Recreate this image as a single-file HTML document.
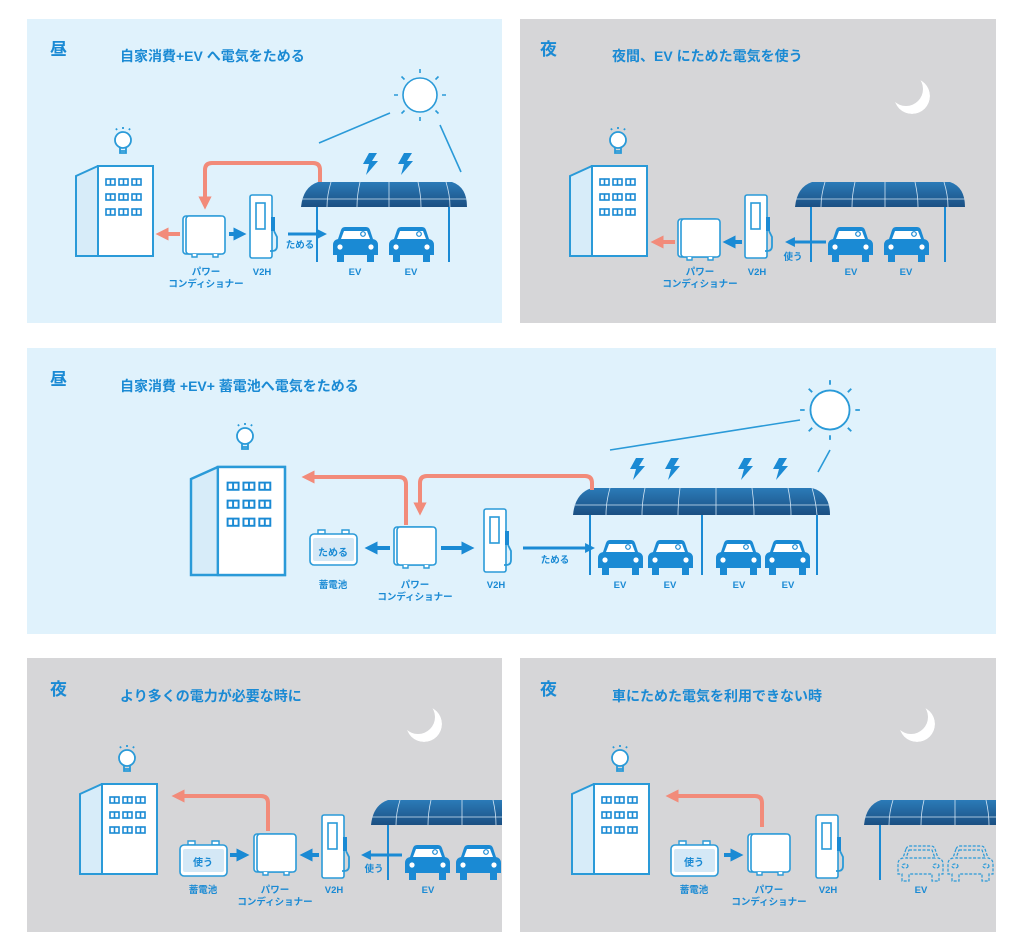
<!DOCTYPE html>
<html><head><meta charset="utf-8"><style>
html,body{margin:0;padding:0;background:#fff;}
svg{display:block;}
text{font-family:"Liberation Sans","Noto Sans CJK JP",sans-serif;font-weight:bold;fill:#1a8ad4;}
.lb{font-size:9.5px;text-anchor:middle;}
.h{font-size:17px;}
.t{font-size:14px;}
</style></head><body>
<svg width="1024" height="952" viewBox="0 0 1024 952" xmlns="http://www.w3.org/2000/svg">
<defs>
<marker id="ab" viewBox="0 0 10 10" refX="5" refY="5" markerWidth="3.3" markerHeight="3.3" orient="auto"><path d="M0,0L10,5L0,10z" fill="#1a8ad4"/></marker>
<marker id="ao" viewBox="0 0 10 10" refX="5" refY="5" markerWidth="3.3" markerHeight="3.3" orient="auto"><path d="M0,0L10,5L0,10z" fill="#f28b7a"/></marker>
<mask id="mm" maskUnits="userSpaceOnUse" x="-30" y="-30" width="60" height="60"><circle r="18" fill="#fff"/><circle cx="-6" cy="-7" r="17" fill="#000"/></mask>
<g id="bld">
<polygon points="0,10 22,0 77,0 77,90 0,90" fill="#d7ecf9" stroke="#2a9ad8" stroke-width="2"/>
<rect x="22" y="0" width="55" height="90" fill="#fff" stroke="#2a9ad8" stroke-width="2"/>
<g fill="none" stroke="#1a8ad4" stroke-width="1.6">
<rect x="30" y="13" width="9" height="6"/><rect x="43" y="13" width="9" height="6"/><rect x="56" y="13" width="9" height="6"/>
<rect x="30" y="28" width="9" height="6"/><rect x="43" y="28" width="9" height="6"/><rect x="56" y="28" width="9" height="6"/>
<rect x="30" y="43" width="9" height="6"/><rect x="43" y="43" width="9" height="6"/><rect x="56" y="43" width="9" height="6"/>
<path d="M34.5,13v6M47.5,13v6M60.5,13v6M34.5,28v6M47.5,28v6M60.5,28v6M34.5,43v6M47.5,43v6M60.5,43v6"/>
</g></g>
<g id="bulb" fill="none" stroke="#2a9ad8" stroke-width="1.8">
<circle cx="0" cy="0" r="8" fill="#fff"/><path d="M-3,8v5h6v-5M-3,11h6"/>
<path d="M0,-11v-2M-6,-10l-1,-1.5M6,-10l1,-1.5"/></g>
<g id="pcs"><rect x="0" y="0" width="40" height="38" rx="3" fill="#fff" stroke="#2a9ad8" stroke-width="1.6"/><rect x="3" y="0" width="39" height="38" rx="3" fill="#fff" stroke="#2a9ad8" stroke-width="1.6"/><path d="M9,38v3h5v-3M30,38v3h5v-3" fill="#fff" stroke="#2a9ad8" stroke-width="1.4"/></g>
<g id="v2h"><rect x="0" y="0" width="22" height="63" rx="2" fill="#fff" stroke="#2a9ad8" stroke-width="1.6"/><rect x="6" y="8" width="9" height="26" fill="#fff" stroke="#2a9ad8" stroke-width="1.6"/><rect x="21" y="22" width="4" height="14" fill="#1a8ad4"/><path d="M24,36l3,6v9q0,5-5,5h-2" fill="none" stroke="#2a9ad8" stroke-width="1.8"/></g>
<g id="bat"><path d="M8,0v4h7v-4zM32,0v4h7v-4z" fill="#fff" stroke="#2a9ad8" stroke-width="1.4"/><rect x="0" y="4" width="47" height="31" rx="4" fill="#fff" stroke="#2a9ad8" stroke-width="1.6"/><rect x="3" y="8" width="41" height="23" rx="2" fill="#d4e8f6"/></g>
<g id="car"><path d="M8,3Q9,0 12,0H33Q36,0 37,3L40,12Q45,13 45,18V28H41V35H34V28H11V35H4V28H0V18Q0,13 5,12Z" fill="#1a8ad4"/><path d="M11,4H34L37,12H8Z" fill="#fff"/><circle cx="30" cy="7" r="2.3" fill="none" stroke="#1a8ad4" stroke-width="1.2"/><circle cx="7" cy="20" r="2.6" fill="#fff"/><circle cx="38" cy="20" r="2.6" fill="#fff"/></g>
<g id="dcar" fill="none" stroke="#2a9ad8" stroke-width="1.2" stroke-dasharray="3,1.5"><path d="M8,3Q9,0 12,0H33Q36,0 37,3L40,12Q45,13 45,18V28H41V35H34V28H11V35H4V28H0V18Q0,13 5,12Z"/><path d="M11,4H34L37,12H8Z"/><ellipse cx="7" cy="20" rx="3" ry="2"/><ellipse cx="38" cy="20" rx="3" ry="2"/></g>
<linearGradient id="rg" x1="0" y1="0" x2="0" y2="1"><stop offset="0" stop-color="#2b7bb8"/><stop offset="1" stop-color="#1b4f82"/></linearGradient>
<g id="sun" fill="none" stroke="#2a9ad8" stroke-width="1.6"><circle r="17" fill="#fff"/><path d="M0,-22v-4M0,22v4M-22,0h-4M22,0h4M15.5,-15.5l3,-3M-15.5,-15.5l-3,-3M15.5,15.5l3,3M-15.5,15.5l-3,3"/></g>
<g id="moon"><circle r="18" fill="#fff" mask="url(#mm)"/></g>
<path id="bolt" d="M6,0H14L9,8H15L3,22L6,11H0Z" fill="#1a8ad4"/>
<clipPath id="c4"><rect x="27" y="658" width="475" height="274"/></clipPath>
<clipPath id="c5"><rect x="520" y="658" width="476" height="274"/></clipPath>
</defs>

<rect x="27" y="19" width="475" height="304" fill="#e0f2fc"/>
<rect x="520" y="19" width="476" height="304" fill="#d6d6d8"/>
<rect x="27" y="348" width="969" height="286" fill="#e0f2fc"/>
<rect x="27" y="658" width="475" height="274" fill="#d6d6d8"/>
<rect x="520" y="658" width="476" height="274" fill="#d6d6d8"/>

<!-- Panel 1 -->
<text class="h" x="50" y="55">昼</text>
<text class="t" x="120" y="61">自家消費+EV へ電気をためる</text>
<use href="#sun" x="420" y="95"/>
<path d="M319,143L390,113M440,125L461,172" stroke="#2a9ad8" stroke-width="1.6"/>
<use href="#bolt" x="363" y="153"/><use href="#bolt" x="398" y="153"/>
<use href="#bulb" x="123" y="140"/>
<use href="#bld" x="76" y="166"/>
<path d="M301,207Q303,187 318,182H452Q467,187 467,207Z" fill="url(#rg)"/>
<path d="M301,199H467M331,182Q327,195 327,207M360,182Q357,195 357,207M389,182V207M418,182Q421,195 421,207M446,182Q450,195 450,207" stroke="#cfe3f3" stroke-width="0.8" fill="none"/>
<path d="M317,207V262M449,207V262" stroke="#1a8ad4" stroke-width="2"/>
<path d="M320,182V170Q320,163 313,163H212Q205,163 205,170V203" fill="none" stroke="#f28b7a" stroke-width="4" marker-end="url(#ao)"/>
<use href="#pcs" x="183" y="216"/>
<use href="#v2h" x="250" y="195"/>
<use href="#car" x="333" y="227"/><use href="#car" x="389" y="227"/>
<path d="M180,234H162" stroke="#f28b7a" stroke-width="4" marker-end="url(#ao)"/>
<path d="M229,234H240" stroke="#1a8ad4" stroke-width="4" marker-end="url(#ab)"/>
<path d="M288,234H322" stroke="#1a8ad4" stroke-width="3" marker-end="url(#ab)"/>
<text class="lb" x="300" y="248">ためる</text>
<text class="lb" x="206" y="275">パワー</text><text class="lb" x="206" y="287">コンディショナー</text>
<text class="lb" x="262" y="275">V2H</text><text class="lb" x="355" y="275">EV</text><text class="lb" x="411" y="275">EV</text>

<!-- Panel 2 -->
<text class="h" x="540" y="55">夜</text>
<text class="t" x="612" y="61">夜間、EV にためた電気を使う</text>
<use href="#moon" x="912" y="96"/>
<use href="#bulb" x="618" y="140"/>
<use href="#bld" x="570" y="166"/>
<path d="M795,207Q797,187 812,182H950Q965,187 965,207Z" fill="url(#rg)"/>
<path d="M795,199H965M825,182Q821,195 821,207M855,182Q852,195 852,207M885,182V207M915,182Q918,195 918,207M944,182Q948,195 948,207" stroke="#cfe3f3" stroke-width="0.8" fill="none"/>
<path d="M811,207V262M945,207V262" stroke="#1a8ad4" stroke-width="2"/>
<use href="#pcs" x="678" y="219"/>
<use href="#v2h" x="745" y="195"/>
<use href="#car" x="828" y="227"/><use href="#car" x="884" y="227"/>
<path d="M675,242H657" stroke="#f28b7a" stroke-width="4" marker-end="url(#ao)"/>
<path d="M742,242H729" stroke="#1a8ad4" stroke-width="4" marker-end="url(#ab)"/>
<path d="M826,242H790" stroke="#1a8ad4" stroke-width="3" marker-end="url(#ab)"/>
<text class="lb" x="793" y="260">使う</text>
<text class="lb" x="700" y="275">パワー</text><text class="lb" x="700" y="287">コンディショナー</text>
<text class="lb" x="757" y="275">V2H</text><text class="lb" x="851" y="275">EV</text><text class="lb" x="906" y="275">EV</text>

<!-- Panel 3 -->
<text class="h" x="50" y="385">昼</text>
<text class="t" x="120" y="391">自家消費 +EV+ 蓄電池へ電気をためる</text>
<g transform="translate(830,410) scale(1.15)"><use href="#sun"/></g>
<path d="M610,450L800,420M830,450L818,472" stroke="#2a9ad8" stroke-width="1.6"/>
<use href="#bolt" x="630" y="458"/><use href="#bolt" x="665" y="458"/><use href="#bolt" x="738" y="458"/><use href="#bolt" x="773" y="458"/>
<use href="#bulb" x="245" y="436"/>
<g transform="translate(191,467) scale(1.22,1.2)"><use href="#bld"/></g>
<path d="M573,515Q575,493 592,488H812Q830,493 830,515Z" fill="url(#rg)"/>
<path d="M573,505H830M610,488Q606,502 606,515M645,488Q642,502 642,515M680,488Q678,502 678,515M716,488V515M752,488Q754,502 754,515M788,488Q791,502 791,515M812,488Q816,502 817,515" stroke="#cfe3f3" stroke-width="0.8" fill="none"/>
<path d="M590,515V575M702,515V575M817,515V575" stroke="#1a8ad4" stroke-width="2"/>
<path d="M406,525V484Q406,477 399,477H308" fill="none" stroke="#f28b7a" stroke-width="4" marker-end="url(#ao)"/>
<path d="M592,490V483Q592,476 585,476H427Q420,476 420,483V509" fill="none" stroke="#f28b7a" stroke-width="4" marker-end="url(#ao)"/>
<use href="#bat" x="310" y="530"/><text class="lb" x="333" y="556" style="font-size:10px">ためる</text>
<use href="#pcs" x="394" y="527"/>
<use href="#v2h" x="484" y="509"/>
<use href="#car" x="598" y="540"/><use href="#car" x="648" y="540"/><use href="#car" x="716" y="540"/><use href="#car" x="765" y="540"/>
<path d="M390,548H371" stroke="#1a8ad4" stroke-width="4" marker-end="url(#ab)"/>
<path d="M441,548H468" stroke="#1a8ad4" stroke-width="4" marker-end="url(#ab)"/>
<path d="M523,548H590" stroke="#1a8ad4" stroke-width="3" marker-end="url(#ab)"/>
<text class="lb" x="555" y="563">ためる</text>
<text class="lb" x="333" y="588">蓄電池</text>
<text class="lb" x="415" y="588">パワー</text><text class="lb" x="415" y="600">コンディショナー</text>
<text class="lb" x="496" y="588">V2H</text>
<text class="lb" x="620" y="588">EV</text><text class="lb" x="670" y="588">EV</text><text class="lb" x="739" y="588">EV</text><text class="lb" x="788" y="588">EV</text>

<!-- Panel 4 -->
<text class="h" x="50" y="695">夜</text>
<text class="t" x="120" y="701">より多くの電力が必要な時に</text>
<use href="#moon" x="424" y="724"/>
<use href="#bulb" x="127" y="758"/>
<use href="#bld" x="80" y="784"/>
<g clip-path="url(#c4)">
<path d="M371,825Q373,805 388,800H520V825Z" fill="url(#rg)"/>
<path d="M371,817H510M400,800Q396,813 396,825M431,800Q428,813 428,825M462,800V825M493,800Q496,813 496,825" stroke="#cfe3f3" stroke-width="0.8" fill="none"/>
<path d="M388,825V880" stroke="#1a8ad4" stroke-width="2"/>
<use href="#car" x="405" y="845"/><use href="#car" x="456" y="845"/>
</g>
<path d="M268,831V803Q268,796 261,796H178" fill="none" stroke="#f28b7a" stroke-width="4" marker-end="url(#ao)"/>
<use href="#bat" x="180" y="841"/><text class="lb" x="203" y="866" style="font-size:10px">使う</text>
<use href="#pcs" x="254" y="834"/>
<use href="#v2h" x="322" y="815"/>
<path d="M230,855H243" stroke="#1a8ad4" stroke-width="4" marker-end="url(#ab)"/>
<path d="M319,855H306" stroke="#1a8ad4" stroke-width="4" marker-end="url(#ab)"/>
<path d="M402,855H366" stroke="#1a8ad4" stroke-width="3" marker-end="url(#ab)"/>
<text class="lb" x="374" y="872">使う</text>
<text class="lb" x="203" y="893">蓄電池</text>
<text class="lb" x="275" y="893">パワー</text><text class="lb" x="275" y="905">コンディショナー</text>
<text class="lb" x="334" y="893">V2H</text><text class="lb" x="428" y="893">EV</text>

<!-- Panel 5 -->
<text class="h" x="540" y="695">夜</text>
<text class="t" x="612" y="701">車にためた電気を利用できない時</text>
<use href="#moon" x="917" y="724"/>
<use href="#bulb" x="620" y="758"/>
<use href="#bld" x="572" y="784"/>
<g clip-path="url(#c5)">
<path d="M864,825Q866,805 881,800H1010V825Z" fill="url(#rg)"/>
<path d="M864,817H1000M893,800Q889,813 889,825M924,800Q921,813 921,825M955,800V825M986,800Q989,813 989,825" stroke="#cfe3f3" stroke-width="0.8" fill="none"/>
<path d="M880,825V880" stroke="#1a8ad4" stroke-width="2"/>
<use href="#dcar" x="898" y="846"/><use href="#dcar" x="948" y="846"/>
</g>
<path d="M762,827V803Q762,796 755,796H672" fill="none" stroke="#f28b7a" stroke-width="4" marker-end="url(#ao)"/>
<use href="#bat" x="671" y="841"/><text class="lb" x="694" y="866" style="font-size:10px">使う</text>
<use href="#pcs" x="748" y="834"/>
<use href="#v2h" x="816" y="815"/>
<path d="M724,855H737" stroke="#1a8ad4" stroke-width="4" marker-end="url(#ab)"/>
<text class="lb" x="694" y="893">蓄電池</text>
<text class="lb" x="769" y="893">パワー</text><text class="lb" x="769" y="905">コンディショナー</text>
<text class="lb" x="828" y="893">V2H</text><text class="lb" x="921" y="893">EV</text>
</svg>
</body></html>
